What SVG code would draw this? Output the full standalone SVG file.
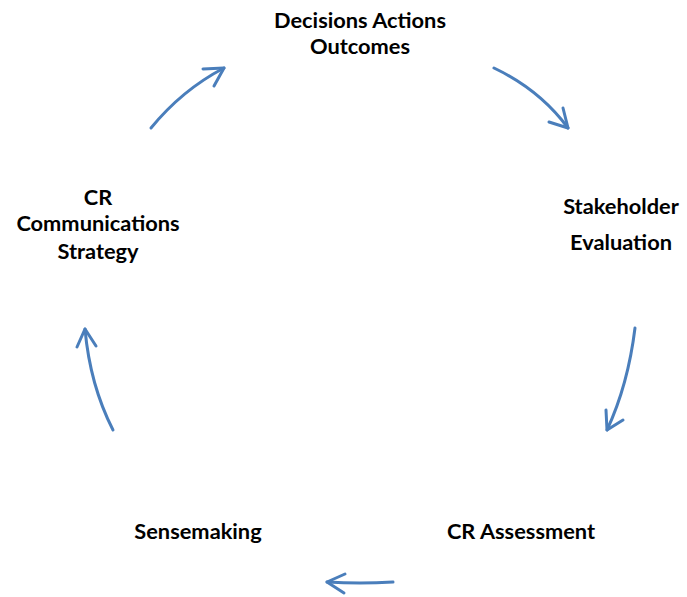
<svg xmlns="http://www.w3.org/2000/svg" width="687" height="597" viewBox="0 0 687 597">
  <style>
    .lbl { font-family: Lato, "Liberation Sans", sans-serif; font-weight: bold; font-size: 21.8px; fill: #000; text-anchor: middle; dominant-baseline: central; }
    .arc { fill: none; stroke: #4A7EBB; stroke-width: 3; stroke-linecap: round; stroke-linejoin: round; }
  </style>
  <rect width="687" height="597" fill="#fff"/>

  <g id="decisions">
    <text class="lbl" x="360" y="19">Decisions Actions</text>
    <text class="lbl" x="360" y="45">Outcomes</text>
  </g>
  <g id="stakeholder">
    <text class="lbl" x="621" y="205">Stakeholder</text>
    <text class="lbl" x="621" y="241">Evaluation</text>
  </g>
  <g id="assessment">
    <text class="lbl" x="521" y="530">CR Assessment</text>
  </g>
  <g id="sensemaking">
    <text class="lbl" x="198" y="530">Sensemaking</text>
  </g>
  <g id="strategy">
    <text class="lbl" x="98" y="196">CR</text>
    <text class="lbl" x="98" y="222">Communications</text>
    <text class="lbl" x="98" y="250">Strategy</text>
  </g>

  <g id="connectors">
    <!-- strategy to decisions -->
    <path class="arc" d="M151,128 Q182,90 224,68"/>
    <path class="arc" d="M203,69 L224,68 L214,86"/>
    <!-- decisions to stakeholder -->
    <path class="arc" d="M494,68 Q540,90 568,128"/>
    <path class="arc" d="M549,122 L568,128 L563,108"/>
    <!-- stakeholder to assessment -->
    <path class="arc" d="M635,328 Q628,385 607,430"/>
    <path class="arc" d="M606,410 L607,430 L623,420"/>
    <!-- assessment to sensemaking -->
    <path class="arc" d="M393,582 Q360,584 327,582"/>
    <path class="arc" d="M345,574 L327,582 L344,593"/>
    <!-- sensemaking to strategy -->
    <path class="arc" d="M113,430 Q90,385 85,329"/>
    <path class="arc" d="M77,347 L85,329 L96,346"/>
  </g>
</svg>
